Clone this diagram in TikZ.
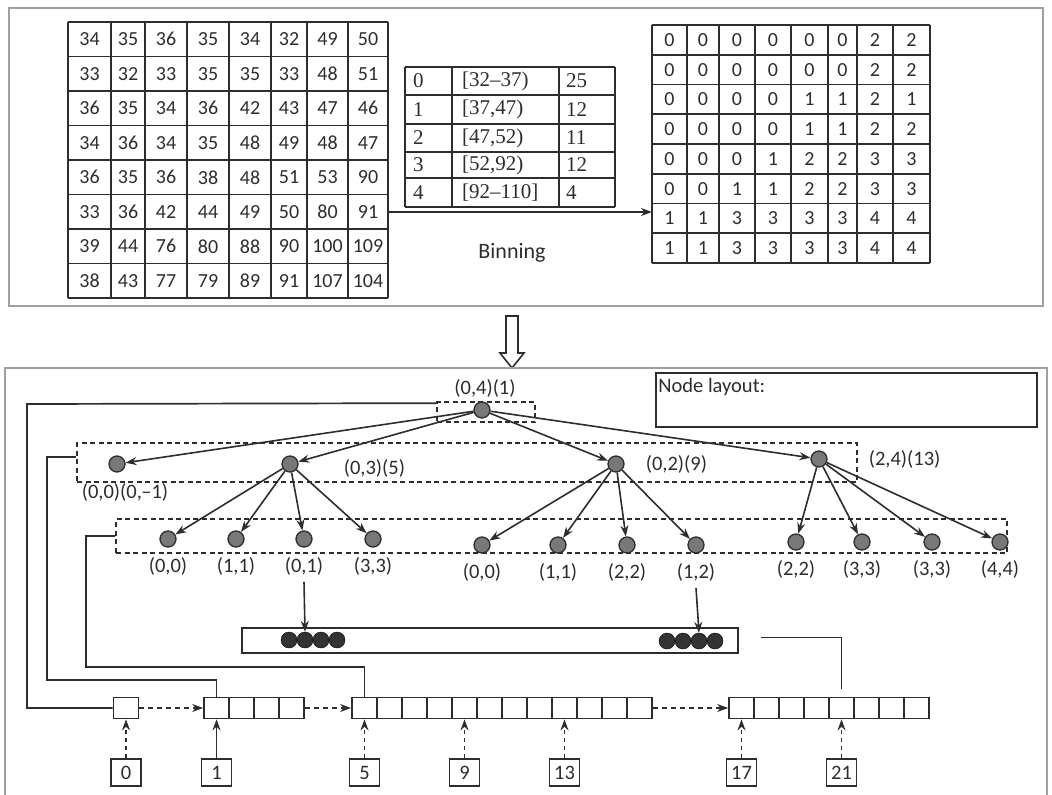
\documentclass[tikz,border=0pt]{standalone}
\usepackage{fontspec}
\setmainfont{Carlito}
\newfontfamily\binfont{Liberation Serif}
\usepackage{tikz}
\usetikzlibrary{arrows.meta, positioning, calc}
\definecolor{inkgray}{RGB}{45, 45, 45}
\definecolor{framegray}{RGB}{160, 160, 160}
\definecolor{nodegray}{RGB}{120, 120, 120}
\tikzset{
    gridline/.style={inkgray, line width=1.8pt},
    numtext/.style={inner sep=0pt, text=inkgray, font=\fontsize{20}{24}\selectfont},
    bintext/.style={anchor=west, inner sep=0pt, text=inkgray, font=\binfont\fontsize{21}{24}\selectfont},
    lbl/.style={inner sep=1pt, text=inkgray, font=\fontsize{20.5}{24}\selectfont},
    dashbox/.style={draw=inkgray, line width=1.7pt, dash pattern=on 5pt off 3.5pt, inner sep=0pt},
    treenode/.style={circle, draw=inkgray, fill=nodegray, line width=1.3pt, minimum size=16pt, inner sep=0pt},
    arrowline/.style={->, draw=inkgray, line width=1.6pt},
    blackdot/.style={circle, draw=black, fill=black!80, minimum size=16pt, inner sep=0pt},
    cellbox/.style={draw=inkgray, line width=1.7pt, minimum width=25pt, minimum height=21pt, inner sep=0pt},
    idxbox/.style={draw=inkgray, line width=1.7pt, minimum width=30pt, minimum height=27pt, inner sep=2pt, text=inkgray, font=\fontsize{20.5}{24}\selectfont},
    wire/.style={draw=inkgray, line width=1.7pt},
}

\begin{document}
\begin{tikzpicture}[x=1pt, y=-1pt, >={Stealth[length=11pt, width=8pt]}]
    \useasboundingbox (0,0) rectangle (1052,795);

    % upper panel: raw values, bins, binned values
    \draw[framegray, line width=2.5pt] (9,8) rectangle (1043,306);
    \foreach \x in {68,111,145,187,229,271,307,348,388}
        \draw[gridline] (\x,22) -- (\x,298);
    \foreach \r in {0,...,8}
        \draw[gridline] (68,{22+34.5*\r}) -- (388,{22+34.5*\r});
    % one entry per column: centre / values top to bottom
    \foreach \xm/\col [count=\c] in {89.5/{34,33,36,34,36,33,39,38}, 128/{35,32,35,36,35,36,44,43},
        166/{36,33,34,34,36,42,76,77}, 208/{35,35,36,35,38,44,80,79}, 250/{34,35,42,48,48,49,88,89},
        289/{32,33,43,49,51,50,90,91}, 327.5/{49,48,47,48,53,80,100,107}, 368/{50,51,46,47,90,91,109,104}} {
        \foreach \v [count=\r] in \col
            \node[numtext] (lg-\r-\c) at (\xm,{22+34.5*(\r-0.5)}) {\v};
    }

    \foreach \y in {67,95,124,152,178,207}
        \draw[gridline] (405,\y) -- (615,\y);
    \foreach \x in {405,452,559,615}
        \draw[gridline] (\x,67) -- (\x,207);
    \foreach \y/\a/\b/\n [count=\r] in {81/0/{[32–37)}/25, 109.5/1/{[37,47)}/12,
        138/2/{[47,52)}/11, 165/3/{[52,92)}/12, 192.5/4/{[92–110]}/4} {
        \node[bintext] (bt-\r-1) at (413,\y) {\a};
        \node[bintext] (bt-\r-2) at (462,\y) {\b};
        \node[bintext] (bt-\r-3) at (566,\y) {\n};
    }

    \coordinate (binsrc) at (388,212);
    \coordinate (bindst) at (652,212);
    \draw[arrowline] (binsrc) -- (bindst);
    \node[numtext, font=\fontsize{22}{26}\selectfont] (binlabel) at (512,253) {Binning};

    \foreach \x in {652,687,719,755,791,828,857,893,930}
        \draw[gridline] (\x,25) -- (\x,263);
    \foreach \r in {0,...,8}
        \draw[gridline] (652,{25+29.75*\r}) -- (930,{25+29.75*\r});
    \foreach \xm/\col [count=\c] in {669.5/{0,0,0,0,0,0,1,1}, 703/{0,0,0,0,0,0,1,1},
        737/{0,0,0,0,0,1,3,3}, 773/{0,0,0,0,1,1,3,3}, 809.5/{0,0,1,1,2,2,3,3},
        842.5/{0,0,1,1,2,2,3,3}, 875/{2,2,2,2,3,3,4,4}, 911.5/{2,2,1,2,3,3,4,4}} {
        \foreach \v [count=\r] in \col
            \node[numtext] (rg-\r-\c) at (\xm,{25+29.75*(\r-0.5)}) {\v};
    }

    % hollow arrow between panels
    \draw[inkgray, line width=1.6pt, fill=white] (506,316) -- (518,316) -- (518,353) -- (524,353)
        -- (512,368) -- (500,353) -- (506,353) -- cycle;

    % lower panel: tree and node layout
    \draw[framegray, line width=2.5pt] (5,796) -- (5,368) -- (1047,368) -- (1047,796);
    \node[draw=inkgray, line width=1.7pt, minimum width=381pt, minimum height=54pt, inner sep=0pt] (layout) at (846.5,400) {};
    \node[lbl, anchor=west] (layout-t) at ([xshift=2pt, yshift=-15pt]layout.north west) {Node layout:};

    \node[dashbox, minimum width=98pt, minimum height=20pt] (rootbox) at (486,412) {};
    \node[dashbox, minimum width=780pt, minimum height=39pt] (l1box) at (467,462.5) {};
    \node[dashbox, minimum width=891pt, minimum height=34pt] (l2box) at (561.5,536) {};

    \node[treenode] (root) at (482,410) {};
    \node[lbl, above=3pt of root, xshift=3pt] (root-t) {(0,4)(1)};

    \node[treenode] (k00) at (117,464) {};
    \node[treenode] (k03) at (290,464) {};
    \node[treenode] (k02) at (616,464) {};
    \node[treenode] (k24) at (819,459) {};
    \node[lbl, below=10pt of k00, xshift=8pt] (k00-t) {(0,0)(0,–1)};
    \node[lbl, right=44pt of k03, yshift=-4pt] (k03-t) {(0,3)(5)};
    \node[lbl, right=20pt of k02] (k02-t) {(0,2)(9)};
    \node[lbl, right=40pt of k24] (k24-t) {(2,4)(13)};
    \foreach \k in {k00,k03,k02,k24}
        \draw[arrowline] (root) -- (\k);

    \foreach \nm/\x/\y/\txt/\up in {a1/168/539/{(0,0)}/k03, a2/236/539/{(1,1)}/k03,
        a3/304/539/{(0,1)}/k03, a4/373/539/{(3,3)}/k03,
        b1/482/545/{(0,0)}/k02, b2/558/545/{(1,1)}/k02, b3/627/545/{(2,2)}/k02, b4/696/545/{(1,2)}/k02,
        c1/796/542/{(2,2)}/k24, c2/862/542/{(3,3)}/k24, c3/932/542/{(3,3)}/k24, c4/1000/542/{(4,4)}/k24} {
        \node[treenode] (\nm) at (\x,\y) {};
        \node[lbl, below=9pt of \nm] (\nm-t) {\txt};
        \draw[arrowline] (\up) -- (\nm);
    }

    % leaf storage bar
    \node[draw=inkgray, line width=1.7pt, minimum width=496pt, minimum height=25pt, inner sep=0pt] (bar) at (490,640.5) {};
    \foreach \x [count=\i] in {289,305,321,337}
        \node[blackdot] (da\i) at (\x,640) {};
    \foreach \x [count=\i] in {667,683,699,715}
        \node[blackdot] (db\i) at (\x,641) {};
    \draw[arrowline] ([yshift=-5pt]a3-t.south) -- (da2.north);
    \draw[arrowline] ([yshift=-5pt]b4-t.south) -- (db3.north);

    % level arrays
    \node[cellbox] (c0) at (126,708) {};
    \foreach \i in {1,...,4}
        \node[cellbox] (c1-\i) at ({204+25*(\i-0.5)},708) {};
    \foreach \i in {1,...,12}
        \node[cellbox] (c5-\i) at ({352+25*(\i-0.5)},708) {};
    \foreach \i in {1,...,8}
        \node[cellbox] (c17-\i) at ({729+25*(\i-0.5)},708) {};
    \draw[arrowline, dash pattern=on 5pt off 4pt] (c0) -- (c1-1);
    \draw[arrowline, dash pattern=on 5pt off 4pt] (c1-4) -- (c5-1);
    \draw[arrowline, dash pattern=on 5pt off 4pt] (c5-12) -- (c17-1);

    \node[idxbox, below=39pt of c0] (i0) {0};
    \node[idxbox, below=39pt of c1-1] (i1) {1};
    \node[idxbox, below=39pt of c5-1] (i5) {5};
    \node[idxbox, below=39pt of c5-5] (i9) {9};
    \node[idxbox, below=39pt of c5-9] (i13) {13};
    \node[idxbox, below=39pt of c17-1] (i17) {17};
    \node[idxbox, below=39pt of c17-5] (i21) {21};
    \draw[arrowline] (i1) -- (c1-1);
    \foreach \a/\b in {i0/c0, i5/c5-1, i9/c5-5, i13/c5-9, i17/c17-1, i21/c17-5}
        \draw[arrowline, dash pattern=on 4pt off 4pt] (\a) -- (\b);

    % links from tree levels to arrays
    \coordinate (rail0) at (27,404);
    \coordinate (rail1) at (47,680);
    \coordinate (rail2) at (86,667);
    \draw[wire] ([yshift=-2pt]rootbox.north west) -- (rail0) |- (c0.west);
    \draw[wire] ([yshift=-15pt]l1box.north west) -| (rail1) -| (c1-1.north);
    \draw[wire] ([yshift=-18pt]l2box.north west) -| (rail2) -| (c5-1.north);
    \draw[wire] ([xshift=22pt, yshift=3pt]bar.east) -| ([yshift=8pt]c17-5.north);
\end{tikzpicture}
\end{document}
